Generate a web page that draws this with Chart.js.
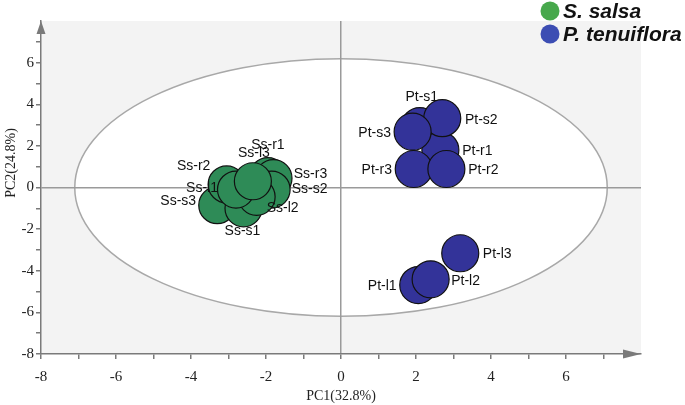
<!DOCTYPE html>
<html>
<head>
<meta charset="utf-8">
<script src="https://cdn.jsdelivr.net/npm/chart.js@4.4.1/dist/chart.umd.min.js"></script>
<style>
    html, body { margin: 0; padding: 0; background: #ffffff; }
    #wrap { width: 685px; height: 405px; }
</style>
</head>
<body>
<div id="wrap"><canvas id="pcaChart" width="685" height="405"></canvas></div>
<script>
// S. salsa samples (PC1, PC2)
const ssNames = ["Ss-s3", "Ss-s1", "Ss-r2", "Ss-r1", "Ss-r3", "Ss-s2", "Ss-l2", "Ss-l1", "Ss-l3"];
const ssPC1 = [-3.3, -2.6, -3.05, -1.95, -1.8, -1.85, -2.25, -2.8, -2.35];
const ssPC2 = [-0.85, -1.0, 0.15, 0.55, 0.45, -0.1, -0.45, -0.1, 0.3];

// P. tenuiflora samples (PC1, PC2)
const ptNames = ["Pt-s1", "Pt-r1", "Pt-s2", "Pt-s3", "Pt-r3", "Pt-r2", "Pt-l1", "Pt-l2", "Pt-l3"];
const ptPC1 = [2.1, 2.65, 2.7, 1.91, 1.94, 2.81, 2.06, 2.39, 3.18];
const ptPC2 = [2.95, 1.8, 3.33, 2.68, 0.89, 0.89, -4.69, -4.41, -3.16];

// Hotelling T2 ellipse (semi-axes in PC units)
const ellipseRx = 7.1;
const ellipseRy = 6.19;

const xTickLabels = [-8, -6, -4, -2, 0, 2, 4, 6];
const yTickLabels = [-8, -6, -4, -2, 0, 2, 4, 6];

// where each sample label sits relative to its point (px)
const labelOffset = {
    "Ss-r1": [0, -31], "Ss-r2": [-33, -18], "Ss-r3": [37, -4],
    "Ss-s1": [-1, 23], "Ss-s2": [38, 0], "Ss-s3": [-39, -4],
    "Ss-l1": [-34, -1], "Ss-l2": [26, 11], "Ss-l3": [1, -28],
    "Pt-s1": [2, -29], "Pt-s2": [39, 2], "Pt-s3": [-38, 1],
    "Pt-r1": [37, 1], "Pt-r3": [-37, 1], "Pt-r2": [37, 1],
    "Pt-l3": [37, 1], "Pt-l2": [35, 2], "Pt-l1": [-36, 1],
};

const toPoints = (xs, ys) => xs.map((x, i) => ({ x: x, y: ys[i] }));

const plotBackground = {
    id: "plotBackground",
    beforeDraw(chart) {
        const { ctx, chartArea, scales } = chart;
        ctx.save();
        ctx.fillStyle = "#f3f3f3";
        ctx.fillRect(chartArea.left, chartArea.top, chartArea.right - chartArea.left, chartArea.bottom - chartArea.top);
        const cx = scales.x.getPixelForValue(0);
        const cy = scales.y.getPixelForValue(0);
        const rx = scales.x.getPixelForValue(ellipseRx) - cx;
        const ry = cy - scales.y.getPixelForValue(ellipseRy);
        ctx.beginPath();
        ctx.ellipse(cx, cy, rx, ry, 0, 0, Math.PI * 2);
        ctx.fillStyle = "#ffffff";
        ctx.fill();
        ctx.strokeStyle = "#a8a8a8";
        ctx.lineWidth = 1.5;
        ctx.stroke();
        ctx.restore();
    },
};

const sampleLabels = {
    id: "sampleLabels",
    afterDatasetsDraw(chart) {
        const ctx = chart.ctx;
        ctx.save();
        ctx.font = "14px 'Liberation Sans', Arial, sans-serif";
        ctx.fillStyle = "#111111";
        ctx.textAlign = "center";
        ctx.textBaseline = "middle";
        chart.data.datasets.forEach((ds, di) => {
            const meta = chart.getDatasetMeta(di);
            meta.data.forEach((pt, i) => {
                const name = ds.names[i];
                const off = labelOffset[name] || [0, -25];
                ctx.fillText(name, pt.x + off[0], pt.y + off[1]);
            });
        });
        ctx.restore();
    },
};

const axisDecor = {
    id: "axisDecor",
    afterDraw(chart) {
        const { ctx, chartArea } = chart;
        ctx.save();
        ctx.fillStyle = "#7a7a7a";
        // y arrow
        ctx.beginPath();
        ctx.moveTo(chartArea.left, chartArea.top);
        ctx.lineTo(chartArea.left - 4.5, chartArea.top + 13);
        ctx.lineTo(chartArea.left + 4.5, chartArea.top + 13);
        ctx.closePath();
        ctx.fill();
        // x arrow
        ctx.beginPath();
        ctx.moveTo(chartArea.right, chartArea.bottom);
        ctx.lineTo(chartArea.right - 18, chartArea.bottom - 4.5);
        ctx.lineTo(chartArea.right - 18, chartArea.bottom + 4.5);
        ctx.closePath();
        ctx.fill();

        // axis titles
        ctx.fillStyle = "#222222";
        ctx.font = "14px 'Liberation Serif', 'Times New Roman', serif";
        ctx.textAlign = "center";
        ctx.textBaseline = "middle";
        ctx.fillText("PC1(32.8%)", (chartArea.left + chartArea.right) / 2, 396);
        ctx.translate(11, 163);
        ctx.rotate(-Math.PI / 2);
        ctx.fillText("PC2(24.8%)", 0, 0);
        ctx.restore();

        // legend
        ctx.save();
        ctx.font = "italic bold 21px 'Liberation Sans', Arial, sans-serif";
        ctx.textAlign = "left";
        ctx.textBaseline = "middle";
        chart.data.datasets.forEach((ds, di) => {
            const y = 11 + di * 23;
            ctx.beginPath();
            ctx.arc(550, y, 9.5, 0, Math.PI * 2);
            ctx.fillStyle = ds.legendColor;
            ctx.fill();
            ctx.fillStyle = "#111111";
            ctx.fillText(ds.label, 563, y + 1);
        });
        ctx.restore();
    },
};

const zeroLine = (ctx) => (ctx.tick && ctx.tick.value === 0 ? "#9a9a9a" : "rgba(0,0,0,0)");
const tickMark = (ctx) => (ctx.tick && ctx.tick.value === 8 ? "rgba(0,0,0,0)" : "#7a7a7a");

new Chart(document.querySelector("#pcaChart"), {
    type: "scatter",
    data: {
        datasets: [
            {
                label: "S. salsa",
                names: ssNames,
                data: toPoints(ssPC1, ssPC2),
                backgroundColor: "#2e8b57",
                borderColor: "#111111",
                borderWidth: 1.2,
                pointRadius: 18.5,
                pointHoverRadius: 18.5,
                legendColor: "#47a84c",
            },
            {
                label: "P. tenuiflora",
                names: ptNames,
                data: toPoints(ptPC1, ptPC2),
                backgroundColor: "#333399",
                borderColor: "#111111",
                borderWidth: 1.2,
                pointRadius: 18.5,
                pointHoverRadius: 18.5,
                legendColor: "#3c4db3",
            },
        ],
    },
    options: {
        responsive: false,
        animation: false,
        layout: {
            padding: { top: 21, right: 44, left: 0, bottom: 0 },
        },
        scales: {
            x: {
                type: "linear",
                min: -8,
                max: 8,
                afterFit: (scale) => { scale.height = 51; },
                ticks: {
                    stepSize: 1,
                    autoSkip: false,
                    maxRotation: 0,
                    padding: 9,
                    color: "#222222",
                    font: { family: "'Liberation Serif', 'Times New Roman', serif", size: 15 },
                    callback: (value) => (xTickLabels.includes(value) ? String(value) : ""),
                },
                grid: {
                    color: zeroLine,
                    tickColor: tickMark,
                    lineWidth: 1.5,
                    tickLength: 5,
                },
                border: { display: true, color: "#7a7a7a", width: 1.5 },
            },
            y: {
                type: "linear",
                min: -8,
                max: 8,
                afterFit: (scale) => { scale.width = 41; },
                ticks: {
                    stepSize: 1,
                    autoSkip: false,
                    padding: 2,
                    color: "#222222",
                    font: { family: "'Liberation Serif', 'Times New Roman', serif", size: 15 },
                    callback: (value) => (yTickLabels.includes(value) ? String(value) : ""),
                },
                grid: {
                    color: zeroLine,
                    tickColor: tickMark,
                    lineWidth: 1.5,
                    tickLength: 5,
                },
                border: { display: true, color: "#7a7a7a", width: 1.5 },
            },
        },
        plugins: {
            legend: { display: false },
            tooltip: { enabled: false },
        },
    },
    plugins: [plotBackground, sampleLabels, axisDecor],
});
</script>
</body>
</html>
